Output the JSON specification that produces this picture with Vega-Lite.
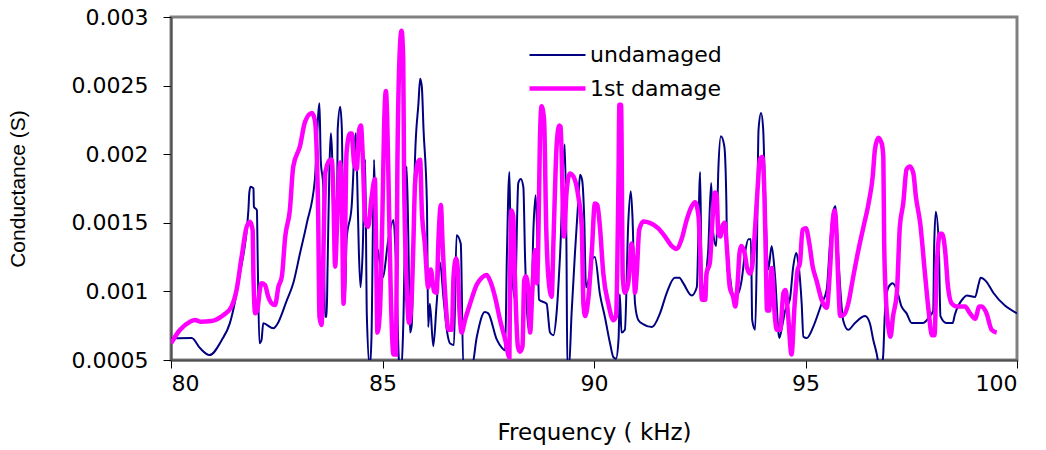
{
"$schema": "https://vega.github.io/schema/vega-lite/v6.json",
"width": 846, "height": 343,
"autosize": {"type": "none"},
"padding": {"left": 171, "top": 17, "right": 29, "bottom": 90},
"background": "white",
"config": {
  "view": {"stroke": "#808080", "strokeWidth": 3},
  "axis": {"grid": false, "domainColor": "#505050", "domainWidth": 2, "tickColor": "#000000", "tickSize": 8, "tickWidth": 1,
           "labelFont": "DejaVu Sans", "labelFontSize": 22, "labelColor": "#000000",
           "titleFont": "DejaVu Sans", "titleFontSize": 23, "titleFontWeight": "normal", "titleColor": "#000000"},
  "legend": {"labelFont": "DejaVu Sans", "labelFontSize": 22, "labelColor": "#000000"}
},
"data": {"values": [
{"series":"undamaged","f":80.00,"g":0.000658},{"series":"undamaged","f":80.49,"g":0.00066},{"series":"undamaged","f":80.69,"g":0.000585},{"series":"undamaged","f":80.91,"g":0.000536},{"series":"undamaged","f":81.20,"g":0.000646},{"series":"undamaged","f":81.39,"g":0.000767},{"series":"undamaged","f":81.63,"g":0.00113},{"series":"undamaged","f":81.83,"g":0.001593},{"series":"undamaged","f":81.85,"g":0.001715},{"series":"undamaged","f":81.88,"g":0.001763},{"series":"undamaged","f":81.95,"g":0.00175},{"series":"undamaged","f":81.96,"g":0.001617},{"series":"undamaged","f":82.03,"g":0.001593},{"series":"undamaged","f":82.05,"g":0.001229},{"series":"undamaged","f":82.09,"g":0.000622},{"series":"undamaged","f":82.14,"g":0.000646},{"series":"undamaged","f":82.18,"g":0.000767},{"series":"undamaged","f":82.42,"g":0.000731},{"series":"undamaged","f":82.50,"g":0.000755},{"series":"undamaged","f":82.74,"g":0.000937},{"series":"undamaged","f":82.89,"g":0.001059},{"series":"undamaged","f":83.05,"g":0.001278},{"series":"undamaged","f":83.21,"g":0.001496},{"series":"undamaged","f":83.40,"g":0.001812},{"series":"undamaged","f":83.51,"g":0.002371},{"series":"undamaged","f":83.54,"g":0.001958},{"series":"undamaged","f":83.60,"g":0.001763},{"series":"undamaged","f":83.64,"g":0.000816},{"series":"undamaged","f":83.68,"g":0.000816},{"series":"undamaged","f":83.70,"g":0.001156},{"series":"undamaged","f":83.78,"g":0.002152},{"series":"undamaged","f":83.81,"g":0.001982},{"series":"undamaged","f":83.84,"g":0.00152},{"series":"undamaged","f":83.92,"g":0.001326},{"series":"undamaged","f":83.94,"g":0.002176},{"series":"undamaged","f":84.00,"g":0.002346},{"series":"undamaged","f":84.04,"g":0.002176},{"series":"undamaged","f":84.07,"g":0.00152},{"series":"undamaged","f":84.11,"g":0.000913},{"series":"undamaged","f":84.15,"g":0.001375},{"series":"undamaged","f":84.27,"g":0.001617},{"series":"undamaged","f":84.37,"g":0.002152},{"series":"undamaged","f":84.40,"g":0.001836},{"series":"undamaged","f":84.44,"g":0.001302},{"series":"undamaged","f":84.48,"g":0.00103},{"series":"undamaged","f":84.53,"g":0.00128},{"series":"undamaged","f":84.59,"g":0.00196},{"series":"undamaged","f":84.63,"g":0.00082},{"series":"undamaged","f":84.70,"g":0.00045},{"series":"undamaged","f":84.74,"g":0.00067},{"series":"undamaged","f":84.80,"g":0.00196},{"series":"undamaged","f":84.85,"g":0.00133},{"series":"undamaged","f":84.89,"g":0.0013},{"series":"undamaged","f":85.00,"g":0.0011},{"series":"undamaged","f":85.15,"g":0.0014},{"series":"undamaged","f":85.26,"g":0.00152},{"series":"undamaged","f":85.32,"g":0.0012},{"series":"undamaged","f":85.40,"g":0.00045},{"series":"undamaged","f":85.45,"g":0.00045},{"series":"undamaged","f":85.49,"g":0.00074},{"series":"undamaged","f":85.57,"g":0.00191},{"series":"undamaged","f":85.61,"g":0.0014},{"series":"undamaged","f":85.65,"g":0.0007},{"series":"undamaged","f":85.69,"g":0.00075},{"series":"undamaged","f":85.77,"g":0.00198},{"series":"undamaged","f":85.85,"g":0.00237},{"series":"undamaged","f":85.89,"g":0.00255},{"series":"undamaged","f":85.93,"g":0.00249},{"series":"undamaged","f":85.97,"g":0.00218},{"series":"undamaged","f":86.05,"g":0.00164},{"series":"undamaged","f":86.08,"g":0.00074},{"series":"undamaged","f":86.12,"g":0.00091},{"series":"undamaged","f":86.20,"g":0.0006},{"series":"undamaged","f":86.28,"g":0.00091},{"series":"undamaged","f":86.36,"g":0.00121},{"series":"undamaged","f":86.44,"g":0.00096},{"series":"undamaged","f":86.52,"g":0.00072},{"series":"undamaged","f":86.60,"g":0.00062},{"series":"undamaged","f":86.69,"g":0.00061},{"series":"undamaged","f":86.75,"g":0.00141},{"series":"undamaged","f":86.85,"g":0.00135},{"series":"undamaged","f":86.91,"g":0.00045},{"series":"undamaged","f":87.11,"g":0.00045},{"series":"undamaged","f":87.23,"g":0.00067},{"series":"undamaged","f":87.42,"g":0.00085},{"series":"undamaged","f":87.50,"g":0.00084},{"series":"undamaged","f":87.70,"g":0.00065},{"series":"undamaged","f":87.82,"g":0.00059},{"series":"undamaged","f":87.90,"g":0.00057},{"series":"undamaged","f":87.94,"g":0.00125},{"series":"undamaged","f":88.00,"g":0.00187},{"series":"undamaged","f":88.03,"g":0.00135},{"series":"undamaged","f":88.13,"g":0.00094},{"series":"undamaged","f":88.21,"g":0.00179},{"series":"undamaged","f":88.27,"g":0.00182},{"series":"undamaged","f":88.33,"g":0.00176},{"series":"undamaged","f":88.37,"g":0.00125},{"series":"undamaged","f":88.45,"g":0.00074},{"series":"undamaged","f":88.50,"g":0.0007},{"series":"undamaged","f":88.57,"g":0.00147},{"series":"undamaged","f":88.62,"g":0.0017},{"series":"undamaged","f":88.67,"g":0.00128},{"series":"undamaged","f":88.70,"g":0.00094},{"series":"undamaged","f":88.88,"g":0.00091},{"series":"undamaged","f":88.96,"g":0.0007},{"series":"undamaged","f":89.04,"g":0.00068},{"series":"undamaged","f":89.12,"g":0.00086},{"series":"undamaged","f":89.20,"g":0.00128},{"series":"undamaged","f":89.31,"g":0.00207},{"series":"undamaged","f":89.35,"g":0.00128},{"series":"undamaged","f":89.37,"g":0.00045},{"series":"undamaged","f":89.41,"g":0.00045},{"series":"undamaged","f":89.47,"g":0.00084},{"series":"undamaged","f":89.55,"g":0.00128},{"series":"undamaged","f":89.63,"g":0.00167},{"series":"undamaged","f":89.67,"g":0.00185},{"series":"undamaged","f":89.72,"g":0.00181},{"series":"undamaged","f":89.77,"g":0.00152},{"series":"undamaged","f":89.81,"g":0.00103},{"series":"undamaged","f":89.87,"g":0.00108},{"series":"undamaged","f":89.95,"g":0.00123},{"series":"undamaged","f":90.02,"g":0.00125},{"series":"undamaged","f":90.14,"g":0.00098},{"series":"undamaged","f":90.26,"g":0.00081},{"series":"undamaged","f":90.38,"g":0.00062},{"series":"undamaged","f":90.46,"g":0.00052},{"series":"undamaged","f":90.52,"g":0.00051},{"series":"undamaged","f":90.58,"g":0.00065},{"series":"undamaged","f":90.61,"g":0.00098},{"series":"undamaged","f":90.65,"g":0.0007},{"series":"undamaged","f":90.73,"g":0.00072},{"series":"undamaged","f":90.81,"g":0.0015},{"series":"undamaged","f":90.87,"g":0.00173},{"series":"undamaged","f":90.91,"g":0.00154},{"series":"undamaged","f":90.97,"g":0.00091},{"series":"undamaged","f":91.05,"g":0.00079},{"series":"undamaged","f":91.17,"g":0.00076},{"series":"undamaged","f":91.37,"g":0.00074},{"series":"undamaged","f":91.56,"g":0.00084},{"series":"undamaged","f":91.72,"g":0.00099},{"series":"undamaged","f":91.91,"g":0.0011},{"series":"undamaged","f":92.02,"g":0.0011},{"series":"undamaged","f":92.11,"g":0.00106},{"series":"undamaged","f":92.31,"g":0.00097},{"series":"undamaged","f":92.43,"g":0.00103},{"series":"undamaged","f":92.51,"g":0.00187},{"series":"undamaged","f":92.55,"g":0.00099},{"series":"undamaged","f":92.63,"g":0.00108},{"series":"undamaged","f":92.70,"g":0.0013},{"series":"undamaged","f":92.77,"g":0.00179},{"series":"undamaged","f":92.82,"g":0.00142},{"series":"undamaged","f":92.89,"g":0.00133},{"series":"undamaged","f":92.94,"g":0.00189},{"series":"undamaged","f":93.00,"g":0.00213},{"series":"undamaged","f":93.08,"g":0.00206},{"series":"undamaged","f":93.13,"g":0.00164},{"series":"undamaged","f":93.15,"g":0.00116},{"series":"undamaged","f":93.21,"g":0.00111},{"series":"undamaged","f":93.29,"g":0.00096},{"series":"undamaged","f":93.40,"g":0.00098},{"series":"undamaged","f":93.49,"g":0.00108},{"series":"undamaged","f":93.57,"g":0.00128},{"series":"undamaged","f":93.65,"g":0.00138},{"series":"undamaged","f":93.71,"g":0.00138},{"series":"undamaged","f":93.74,"g":0.00079},{"series":"undamaged","f":93.81,"g":0.00072},{"series":"undamaged","f":93.85,"g":0.00128},{"series":"undamaged","f":93.89,"g":0.00218},{"series":"undamaged","f":93.95,"g":0.0023},{"series":"undamaged","f":94.00,"g":0.00218},{"series":"undamaged","f":94.04,"g":0.00176},{"series":"undamaged","f":94.12,"g":0.00116},{"series":"undamaged","f":94.20,"g":0.00133},{"series":"undamaged","f":94.28,"g":0.00111},{"series":"undamaged","f":94.38,"g":0.00066},{"series":"undamaged","f":94.45,"g":0.00075},{"series":"undamaged","f":94.52,"g":0.00086},{"series":"undamaged","f":94.63,"g":0.00094},{"series":"undamaged","f":94.71,"g":0.00118},{"series":"undamaged","f":94.78,"g":0.00128},{"series":"undamaged","f":94.83,"g":0.00121},{"series":"undamaged","f":94.91,"g":0.00091},{"series":"undamaged","f":94.95,"g":0.00067},{"series":"undamaged","f":95.03,"g":0.00066},{"series":"undamaged","f":95.18,"g":0.00074},{"series":"undamaged","f":95.38,"g":0.00091},{"series":"undamaged","f":95.50,"g":0.00101},{"series":"undamaged","f":95.58,"g":0.00135},{"series":"undamaged","f":95.66,"g":0.00159},{"series":"undamaged","f":95.71,"g":0.00162},{"series":"undamaged","f":95.75,"g":0.0014},{"series":"undamaged","f":95.82,"g":0.00103},{"series":"undamaged","f":95.89,"g":0.00079},{"series":"undamaged","f":96.01,"g":0.00072},{"series":"undamaged","f":96.17,"g":0.00077},{"series":"undamaged","f":96.41,"g":0.00082},{"series":"undamaged","f":96.52,"g":0.00077},{"series":"undamaged","f":96.60,"g":0.00065},{"series":"undamaged","f":96.68,"g":0.00055},{"series":"undamaged","f":96.75,"g":0.00045},{"series":"undamaged","f":96.83,"g":0.00051},{"series":"undamaged","f":96.88,"g":0.00086},{"series":"undamaged","f":96.96,"g":0.00103},{"series":"undamaged","f":97.06,"g":0.00106},{"series":"undamaged","f":97.16,"g":0.00101},{"series":"undamaged","f":97.27,"g":0.00089},{"series":"undamaged","f":97.39,"g":0.00084},{"series":"undamaged","f":97.51,"g":0.00077},{"series":"undamaged","f":97.78,"g":0.00077},{"series":"undamaged","f":97.94,"g":0.00082},{"series":"undamaged","f":98.02,"g":0.00086},{"series":"undamaged","f":98.04,"g":0.0013},{"series":"undamaged","f":98.08,"g":0.00158},{"series":"undamaged","f":98.15,"g":0.00135},{"series":"undamaged","f":98.19,"g":0.00082},{"series":"undamaged","f":98.33,"g":0.00077},{"series":"undamaged","f":98.48,"g":0.00077},{"series":"undamaged","f":98.53,"g":0.00083},{"series":"undamaged","f":98.73,"g":0.00095},{"series":"undamaged","f":98.81,"g":0.00097},{"series":"undamaged","f":99.01,"g":0.00096},{"series":"undamaged","f":99.09,"g":0.00105},{"series":"undamaged","f":99.14,"g":0.0011},{"series":"undamaged","f":99.28,"g":0.00107},{"series":"undamaged","f":99.44,"g":0.00099},{"series":"undamaged","f":100.00,"g":0.00084},
{"series":"1st damage","f":80.00,"g":0.000622},{"series":"1st damage","f":80.21,"g":0.000719},{"series":"1st damage","f":80.45,"g":0.000779},{"series":"1st damage","f":80.57,"g":0.000792},{"series":"1st damage","f":80.69,"g":0.000779},{"series":"1st damage","f":80.96,"g":0.000784},{"series":"1st damage","f":81.24,"g":0.000828},{"series":"1st damage","f":81.43,"g":0.000889},{"series":"1st damage","f":81.55,"g":0.00101},{"series":"1st damage","f":81.67,"g":0.001253},{"series":"1st damage","f":81.79,"g":0.001472},{"series":"1st damage","f":81.87,"g":0.001508},{"series":"1st damage","f":81.93,"g":0.001447},{"series":"1st damage","f":81.95,"g":0.001107},{"series":"1st damage","f":81.99,"g":0.00084},{"series":"1st damage","f":82.04,"g":0.000864},{"series":"1st damage","f":82.10,"g":0.00101},{"series":"1st damage","f":82.14,"g":0.001059},{"series":"1st damage","f":82.22,"g":0.001047},{"series":"1st damage","f":82.30,"g":0.000961},{"series":"1st damage","f":82.38,"g":0.000913},{"series":"1st damage","f":82.46,"g":0.000901},{"series":"1st damage","f":82.54,"g":0.001034},{"series":"1st damage","f":82.62,"g":0.001107},{"series":"1st damage","f":82.70,"g":0.001399},{"series":"1st damage","f":82.81,"g":0.001593},{"series":"1st damage","f":82.89,"g":0.001909},{"series":"1st damage","f":83.05,"g":0.00206},{"series":"1st damage","f":83.17,"g":0.002237},{"series":"1st damage","f":83.33,"g":0.0023},{"series":"1st damage","f":83.40,"g":0.00225},{"series":"1st damage","f":83.44,"g":0.00206},{"series":"1st damage","f":83.48,"g":0.00155},{"series":"1st damage","f":83.51,"g":0.000816},{"series":"1st damage","f":83.56,"g":0.000755},{"series":"1st damage","f":83.60,"g":0.00124},{"series":"1st damage","f":83.65,"g":0.00187},{"series":"1st damage","f":83.76,"g":0.00196},{"series":"1st damage","f":83.80,"g":0.00196},{"series":"1st damage","f":83.84,"g":0.00169},{"series":"1st damage","f":83.88,"g":0.00118},{"series":"1st damage","f":83.93,"g":0.00152},{"series":"1st damage","f":84.00,"g":0.00194},{"series":"1st damage","f":84.04,"g":0.00164},{"series":"1st damage","f":84.08,"g":0.00091},{"series":"1st damage","f":84.11,"g":0.00128},{"series":"1st damage","f":84.15,"g":0.00201},{"series":"1st damage","f":84.23,"g":0.00215},{"series":"1st damage","f":84.27,"g":0.00215},{"series":"1st damage","f":84.33,"g":0.00193},{"series":"1st damage","f":84.39,"g":0.00189},{"series":"1st damage","f":84.45,"g":0.00218},{"series":"1st damage","f":84.49,"g":0.00221},{"series":"1st damage","f":84.53,"g":0.00201},{"series":"1st damage","f":84.59,"g":0.00152},{"series":"1st damage","f":84.66,"g":0.00147},{"series":"1st damage","f":84.74,"g":0.00168},{"series":"1st damage","f":84.82,"g":0.00182},{"series":"1st damage","f":84.85,"g":0.00128},{"series":"1st damage","f":84.88,"g":0.0007},{"series":"1st damage","f":84.94,"g":0.00086},{"series":"1st damage","f":85.00,"g":0.00159},{"series":"1st damage","f":85.04,"g":0.00223},{"series":"1st damage","f":85.08,"g":0.00246},{"series":"1st damage","f":85.11,"g":0.00227},{"series":"1st damage","f":85.14,"g":0.00184},{"series":"1st damage","f":85.19,"g":0.00106},{"series":"1st damage","f":85.26,"g":0.00054},{"series":"1st damage","f":85.32,"g":0.00054},{"series":"1st damage","f":85.35,"g":0.00184},{"series":"1st damage","f":85.40,"g":0.00269},{"series":"1st damage","f":85.45,"g":0.0029},{"series":"1st damage","f":85.49,"g":0.00269},{"series":"1st damage","f":85.51,"g":0.00184},{"series":"1st damage","f":85.57,"g":0.00106},{"series":"1st damage","f":85.63,"g":0.00077},{"series":"1st damage","f":85.69,"g":0.00096},{"series":"1st damage","f":85.73,"g":0.00135},{"series":"1st damage","f":85.77,"g":0.00179},{"series":"1st damage","f":85.85,"g":0.00195},{"series":"1st damage","f":85.89,"g":0.00196},{"series":"1st damage","f":85.93,"g":0.00159},{"series":"1st damage","f":86.00,"g":0.00135},{"series":"1st damage","f":86.08,"g":0.00103},{"series":"1st damage","f":86.14,"g":0.00116},{"series":"1st damage","f":86.22,"g":0.001},{"series":"1st damage","f":86.28,"g":0.00099},{"series":"1st damage","f":86.32,"g":0.00135},{"series":"1st damage","f":86.38,"g":0.00163},{"series":"1st damage","f":86.42,"g":0.00135},{"series":"1st damage","f":86.48,"g":0.00099},{"series":"1st damage","f":86.56,"g":0.00072},{"series":"1st damage","f":86.64,"g":0.00072},{"series":"1st damage","f":86.68,"g":0.00111},{"series":"1st damage","f":86.74,"g":0.00124},{"series":"1st damage","f":86.78,"g":0.00116},{"series":"1st damage","f":86.82,"g":0.00086},{"series":"1st damage","f":86.87,"g":0.0007},{"series":"1st damage","f":86.95,"g":0.00079},{"series":"1st damage","f":87.07,"g":0.00091},{"series":"1st damage","f":87.23,"g":0.00105},{"series":"1st damage","f":87.35,"g":0.0011},{"series":"1st damage","f":87.46,"g":0.00112},{"series":"1st damage","f":87.54,"g":0.00108},{"series":"1st damage","f":87.66,"g":0.00096},{"series":"1st damage","f":87.78,"g":0.00079},{"series":"1st damage","f":87.90,"g":0.00065},{"series":"1st damage","f":88.00,"g":0.00052},{"series":"1st damage","f":88.01,"g":0.00086},{"series":"1st damage","f":88.05,"g":0.00159},{"series":"1st damage","f":88.09,"g":0.00155},{"series":"1st damage","f":88.13,"g":0.00111},{"series":"1st damage","f":88.20,"g":0.0006},{"series":"1st damage","f":88.25,"g":0.00056},{"series":"1st damage","f":88.31,"g":0.0006},{"series":"1st damage","f":88.35,"g":0.00108},{"series":"1st damage","f":88.39,"g":0.00111},{"series":"1st damage","f":88.45,"g":0.00099},{"series":"1st damage","f":88.49,"g":0.0007},{"series":"1st damage","f":88.54,"g":0.00099},{"series":"1st damage","f":88.61,"g":0.0013},{"series":"1st damage","f":88.65,"g":0.00106},{"series":"1st damage","f":88.68,"g":0.0013},{"series":"1st damage","f":88.72,"g":0.00208},{"series":"1st damage","f":88.76,"g":0.00235},{"series":"1st damage","f":88.82,"g":0.00225},{"series":"1st damage","f":88.87,"g":0.00147},{"series":"1st damage","f":88.92,"g":0.00111},{"series":"1st damage","f":89.00,"g":0.00096},{"series":"1st damage","f":89.04,"g":0.00135},{"series":"1st damage","f":89.12,"g":0.00208},{"series":"1st damage","f":89.18,"g":0.00221},{"series":"1st damage","f":89.21,"g":0.0022},{"series":"1st damage","f":89.29,"g":0.0014},{"series":"1st damage","f":89.35,"g":0.00172},{"series":"1st damage","f":89.43,"g":0.00186},{"series":"1st damage","f":89.51,"g":0.00184},{"series":"1st damage","f":89.63,"g":0.00169},{"series":"1st damage","f":89.71,"g":0.00147},{"series":"1st damage","f":89.75,"g":0.00091},{"series":"1st damage","f":89.79,"g":0.00082},{"series":"1st damage","f":89.87,"g":0.00096},{"series":"1st damage","f":89.95,"g":0.0013},{"series":"1st damage","f":90.02,"g":0.00164},{"series":"1st damage","f":90.08,"g":0.00163},{"series":"1st damage","f":90.14,"g":0.00147},{"series":"1st damage","f":90.22,"g":0.00113},{"series":"1st damage","f":90.34,"g":0.00091},{"series":"1st damage","f":90.46,"g":0.00079},{"series":"1st damage","f":90.52,"g":0.00082},{"series":"1st damage","f":90.58,"g":0.00184},{"series":"1st damage","f":90.60,"g":0.00236},{"series":"1st damage","f":90.64,"g":0.00236},{"series":"1st damage","f":90.68,"g":0.00111},{"series":"1st damage","f":90.73,"g":0.00099},{"series":"1st damage","f":90.81,"g":0.00106},{"series":"1st damage","f":90.89,"g":0.00135},{"series":"1st damage","f":90.93,"g":0.00123},{"series":"1st damage","f":90.97,"g":0.00099},{"series":"1st damage","f":91.01,"g":0.00113},{"series":"1st damage","f":91.07,"g":0.00145},{"series":"1st damage","f":91.17,"g":0.00151},{"series":"1st damage","f":91.32,"g":0.0015},{"series":"1st damage","f":91.52,"g":0.00146},{"series":"1st damage","f":91.68,"g":0.0014},{"series":"1st damage","f":91.84,"g":0.00133},{"series":"1st damage","f":91.95,"g":0.00131},{"series":"1st damage","f":92.07,"g":0.00138},{"series":"1st damage","f":92.19,"g":0.00152},{"series":"1st damage","f":92.31,"g":0.00162},{"series":"1st damage","f":92.39,"g":0.00165},{"series":"1st damage","f":92.47,"g":0.00155},{"series":"1st damage","f":92.51,"g":0.00128},{"series":"1st damage","f":92.55,"g":0.00094},{"series":"1st damage","f":92.63,"g":0.00094},{"series":"1st damage","f":92.66,"g":0.00113},{"series":"1st damage","f":92.74,"g":0.00121},{"series":"1st damage","f":92.80,"g":0.00152},{"series":"1st damage","f":92.86,"g":0.00172},{"series":"1st damage","f":92.90,"g":0.0017},{"series":"1st damage","f":92.94,"g":0.00142},{"series":"1st damage","f":92.99,"g":0.0014},{"series":"1st damage","f":93.03,"g":0.00147},{"series":"1st damage","f":93.09,"g":0.0015},{"series":"1st damage","f":93.15,"g":0.00128},{"series":"1st damage","f":93.21,"g":0.00103},{"series":"1st damage","f":93.29,"g":0.00096},{"series":"1st damage","f":93.34,"g":0.00089},{"series":"1st damage","f":93.40,"g":0.00108},{"series":"1st damage","f":93.44,"g":0.00128},{"series":"1st damage","f":93.48,"g":0.00133},{"series":"1st damage","f":93.56,"g":0.00128},{"series":"1st damage","f":93.62,"g":0.00117},{"series":"1st damage","f":93.69,"g":0.00113},{"series":"1st damage","f":93.74,"g":0.00118},{"series":"1st damage","f":93.81,"g":0.00147},{"series":"1st damage","f":93.87,"g":0.00176},{"series":"1st damage","f":93.92,"g":0.00196},{"series":"1st damage","f":93.98,"g":0.00198},{"series":"1st damage","f":94.03,"g":0.00169},{"series":"1st damage","f":94.06,"g":0.00128},{"series":"1st damage","f":94.09,"g":0.00086},{"series":"1st damage","f":94.14,"g":0.00086},{"series":"1st damage","f":94.20,"g":0.00117},{"series":"1st damage","f":94.28,"g":0.0008},{"series":"1st damage","f":94.32,"g":0.00072},{"series":"1st damage","f":94.40,"g":0.00072},{"series":"1st damage","f":94.48,"g":0.00099},{"series":"1st damage","f":94.53,"g":0.00101},{"series":"1st damage","f":94.59,"g":0.00082},{"series":"1st damage","f":94.67,"g":0.00054},{"series":"1st damage","f":94.74,"g":0.00089},{"series":"1st damage","f":94.81,"g":0.00115},{"series":"1st damage","f":94.87,"g":0.00121},{"series":"1st damage","f":94.93,"g":0.00145},{"series":"1st damage","f":95.01,"g":0.00146},{"series":"1st damage","f":95.09,"g":0.00135},{"series":"1st damage","f":95.17,"g":0.00118},{"series":"1st damage","f":95.26,"g":0.00108},{"series":"1st damage","f":95.38,"g":0.00094},{"series":"1st damage","f":95.50,"g":0.00088},{"series":"1st damage","f":95.58,"g":0.00116},{"series":"1st damage","f":95.64,"g":0.0015},{"series":"1st damage","f":95.69,"g":0.00159},{"series":"1st damage","f":95.73,"g":0.00145},{"series":"1st damage","f":95.77,"g":0.00111},{"series":"1st damage","f":95.82,"g":0.00082},{"series":"1st damage","f":95.91,"g":0.00083},{"series":"1st damage","f":96.01,"g":0.00091},{"series":"1st damage","f":96.13,"g":0.00111},{"series":"1st damage","f":96.25,"g":0.0013},{"series":"1st damage","f":96.37,"g":0.00147},{"series":"1st damage","f":96.49,"g":0.00164},{"series":"1st damage","f":96.59,"g":0.00184},{"series":"1st damage","f":96.64,"g":0.00203},{"series":"1st damage","f":96.72,"g":0.00212},{"series":"1st damage","f":96.80,"g":0.00208},{"series":"1st damage","f":96.84,"g":0.00198},{"series":"1st damage","f":96.86,"g":0.00135},{"series":"1st damage","f":96.90,"g":0.00096},{"series":"1st damage","f":96.96,"g":0.00074},{"series":"1st damage","f":97.01,"g":0.00067},{"series":"1st damage","f":97.07,"g":0.00082},{"series":"1st damage","f":97.16,"g":0.00099},{"series":"1st damage","f":97.23,"g":0.00147},{"series":"1st damage","f":97.31,"g":0.00164},{"series":"1st damage","f":97.39,"g":0.00189},{"series":"1st damage","f":97.47,"g":0.00191},{"series":"1st damage","f":97.55,"g":0.00186},{"series":"1st damage","f":97.61,"g":0.00169},{"series":"1st damage","f":97.71,"g":0.0015},{"series":"1st damage","f":97.83,"g":0.00111},{"series":"1st damage","f":97.91,"g":0.00086},{"series":"1st damage","f":97.99,"g":0.00068},{"series":"1st damage","f":98.05,"g":0.00068},{"series":"1st damage","f":98.10,"g":0.00116},{"series":"1st damage","f":98.18,"g":0.00142},{"series":"1st damage","f":98.23,"g":0.00142},{"series":"1st damage","f":98.30,"g":0.0013},{"series":"1st damage","f":98.37,"g":0.00103},{"series":"1st damage","f":98.46,"g":0.00091},{"series":"1st damage","f":98.58,"g":0.00089},{"series":"1st damage","f":98.77,"g":0.00089},{"series":"1st damage","f":98.89,"g":0.00084},{"series":"1st damage","f":99.01,"g":0.0008},{"series":"1st damage","f":99.11,"g":0.00089},{"series":"1st damage","f":99.16,"g":0.00089},{"series":"1st damage","f":99.28,"g":0.00084},{"series":"1st damage","f":99.40,"g":0.00072},{"series":"1st damage","f":99.52,"g":0.0007}
]},
"encoding": {
  "x": {"field": "f", "type": "quantitative",
        "scale": {"domain": [80, 100], "nice": false, "zero": false},
        "axis": {"values": [80, 85, 90, 95, 100], "title": "Frequency ( kHz)", "labelPadding": 5,
                 "titleX": 423, "titleY": 72, "titleBaseline": "middle", "titleAnchor": "middle"}},
  "y": {"field": "g", "type": "quantitative",
        "scale": {"domain": [0.0005, 0.003], "nice": false, "zero": false},
        "axis": {"values": [0.0005, 0.001, 0.0015, 0.002, 0.0025, 0.003], "format": "~g", "title": "Conductance (S)",
                 "labelPadding": 15, "titleFont": "Liberation Sans", "titleFontSize": 21,
                 "titleX": -153, "titleY": 171.5, "titleAngle": -90, "titleBaseline": "middle", "titleAlign": "center"}},
  "color": {"field": "series", "type": "nominal",
            "scale": {"domain": ["undamaged", "1st damage"], "range": ["#000080", "#FF00FF"]},
            "legend": {"title": null, "orient": "none", "legendX": 356, "legendY": 19.5, "padding": 0,
                       "symbolType": "M-1,0H2.2", "symbolSize": 1225, "labelOffset": 23, "rowPadding": 2}},
  "strokeWidth": {"field": "series", "type": "nominal",
            "scale": {"domain": ["undamaged", "1st damage"], "range": [2, 4.5]},
            "legend": {"title": null, "orient": "none", "legendX": 356, "legendY": 19.5, "padding": 0,
                       "symbolType": "M-1,0H2.2", "symbolSize": 1225, "labelOffset": 23, "rowPadding": 2}}
},
"layer": [
  {"transform": [{"filter": "datum.series === 'undamaged'"}],
   "mark": {"type": "line", "interpolate": "monotone", "clip": true}},
  {"transform": [{"filter": "datum.series === '1st damage'"}],
   "mark": {"type": "line", "interpolate": "monotone", "clip": true}}
]
}
